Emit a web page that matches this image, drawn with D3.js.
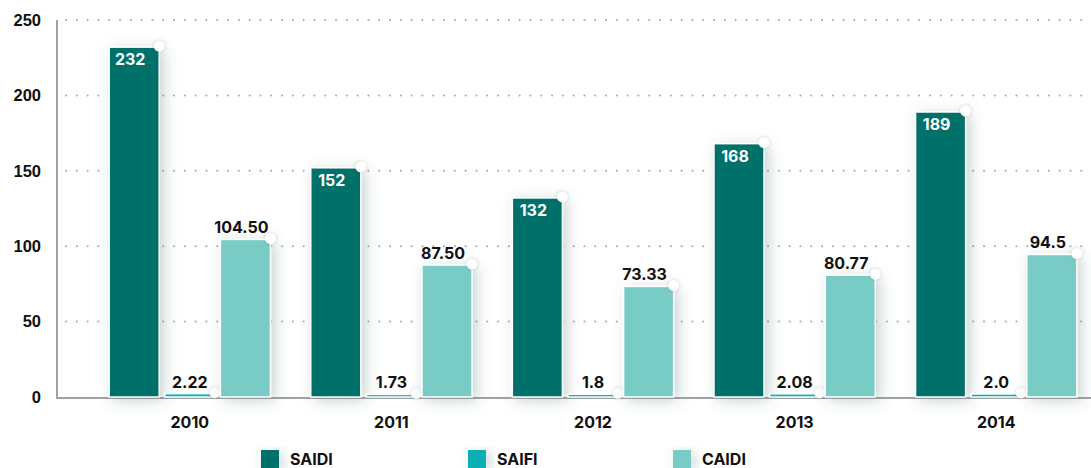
<!DOCTYPE html>
<html>
<head>
<meta charset="utf-8">
<script src="https://cdn.jsdelivr.net/npm/d3@7"></script>
<style>
  body { margin: 0; background: #fff; }
  svg { display: block; font-family: "Inter", "Open Sans", sans-serif; }
</style>
</head>
<body>
<div id="chart"></div>
<script>
// data
const years = ["2010", "2011", "2012", "2013", "2014"];
const seriesNames = ["SAIDI", "SAIFI", "CAIDI"];
const saidi = [232, 152, 132, 168, 189];
const saifi = [2.22, 1.73, 1.8, 2.08, 2.0];
const caidi = [104.50, 87.50, 73.33, 80.77, 94.5];
const saidiLabels = ["232", "152", "132", "168", "189"];
const saifiLabels = ["2.22", "1.73", "1.8", "2.08", "2.0"];
const caidiLabels = ["104.50", "87.50", "73.33", "80.77", "94.5"];
const yTicks = [0, 50, 100, 150, 200, 250];

const colors = { SAIDI: "#066f6a", SAIFI: "#07afb4", CAIDI: "#79ccc6" };

const width = 1091, height = 468;

const svg = d3.select("#chart").append("svg")
    .attr("width", width)
    .attr("height", height);

const defs = svg.append("defs");
const shadow = defs.append("filter")
    .attr("id", "shadow")
    .attr("x", "-50%").attr("y", "-20%")
    .attr("width", "200%").attr("height", "140%");
shadow.append("feDropShadow")
    .attr("dx", 4).attr("dy", 3)
    .attr("stdDeviation", 7)
    .attr("flood-color", "#4a6e6c")
    .attr("flood-opacity", 0.3);

const dotShadow = defs.append("filter")
    .attr("id", "dotShadow")
    .attr("x", "-100%").attr("y", "-100%")
    .attr("width", "300%").attr("height", "300%");
dotShadow.append("feDropShadow")
    .attr("dx", 0).attr("dy", 0)
    .attr("stdDeviation", 1.5)
    .attr("flood-color", "#555")
    .attr("flood-opacity", 0.35);

const yScale = d3.scaleLinear().domain([0, 250]).range([397, 20]);

const x0 = d3.scaleBand().domain(years).range([89, 1097])
    .paddingInner(0.2).paddingOuter(0.1);
const x1 = d3.scaleBand().domain(seriesNames).range([0, x0.bandwidth()])
    .paddingInner(0.1);

// dotted grid
const grid = svg.append("g");
yTicks.filter(t => t > 0).forEach(t => {
    grid.append("line")
        .attr("x1", 66).attr("x2", width)
        .attr("y1", yScale(t)).attr("y2", yScale(t))
        .attr("stroke", "#a9a9a9")
        .attr("stroke-width", 2)
        .attr("stroke-linecap", "round")
        .attr("stroke-dasharray", "0.1 10.7");
});

// y axis labels
const yAxis = svg.append("g").attr("transform", "translate(41,0)")
    .call(d3.axisLeft(yScale).tickValues(yTicks).tickSize(0).tickPadding(0));
yAxis.select(".domain").remove();
yAxis.selectAll("text")
    .attr("font-size", 16.5)
    .attr("font-weight", 700)
    .attr("fill", "#111");

// axis lines
svg.append("line")
    .attr("x1", 57).attr("x2", 57)
    .attr("y1", 20).attr("y2", 398)
    .attr("stroke", "#a2a2a6").attr("stroke-width", 2);
svg.append("line")
    .attr("x1", 56).attr("x2", width)
    .attr("y1", 398).attr("y2", 398)
    .attr("stroke", "#a2a2a6").attr("stroke-width", 2);

// bars
const rows = years.map((y, i) => ({
    year: y,
    items: [
        { key: "SAIDI", value: saidi[i], label: saidiLabels[i] },
        { key: "SAIFI", value: saifi[i], label: saifiLabels[i] },
        { key: "CAIDI", value: caidi[i], label: caidiLabels[i] }
    ]
}));

const groups = svg.selectAll("g.year")
    .data(rows)
    .join("g")
    .attr("class", "year")
    .attr("transform", d => `translate(${x0(d.year)},0)`);

const bar = groups.selectAll("g.bar")
    .data(d => d.items)
    .join("g")
    .attr("class", "bar");

bar.append("rect")
    .attr("x", d => x1(d.key))
    .attr("y", d => yScale(d.value))
    .attr("width", x1.bandwidth())
    .attr("height", d => yScale(0) - yScale(d.value))
    .attr("fill", d => colors[d.key])
    .attr("stroke", "#fff")
    .attr("stroke-width", 1.5)
    .attr("filter", "url(#shadow)");

bar.append("circle")
    .attr("cx", d => x1(d.key) + x1.bandwidth())
    .attr("cy", d => yScale(d.value) - 1)
    .attr("r", 5.5)
    .attr("fill", "#fff")
    .attr("filter", "url(#dotShadow)");

bar.append("text")
    .attr("x", d => x1(d.key) + x1.bandwidth() / 2)
    .attr("dx", d => d.key === "SAIFI" ? 0 : -4)
    .attr("y", d => d.key === "SAIDI" ? yScale(d.value) + 18 : yScale(d.value) - 6)
    .attr("text-anchor", "middle")
    .attr("font-size", 16)
    .attr("font-weight", 700)
    .attr("fill", d => d.key === "SAIDI" ? "#fff" : "#111")
    .text(d => d.label);

// year labels
svg.append("g").selectAll("text")
    .data(years)
    .join("text")
    .attr("x", d => x0(d) + x0.bandwidth() / 2)
    .attr("y", 428)
    .attr("text-anchor", "middle")
    .attr("font-size", 16)
    .attr("font-weight", 700)
    .attr("fill", "#111")
    .text(d => d);

// legend
const legendX = [261, 468, 673];
const legend = svg.append("g").selectAll("g")
    .data(seriesNames)
    .join("g")
    .attr("transform", (d, i) => `translate(${legendX[i]},450)`);
legend.append("rect")
    .attr("width", 18).attr("height", 18)
    .attr("fill", d => colors[d])
    .attr("filter", "url(#shadow)");
legend.append("text")
    .attr("x", 29).attr("y", 15)
    .attr("font-size", 16)
    .attr("font-weight", 700)
    .attr("fill", "#111")
    .text(d => d);
</script>
</body>
</html>
